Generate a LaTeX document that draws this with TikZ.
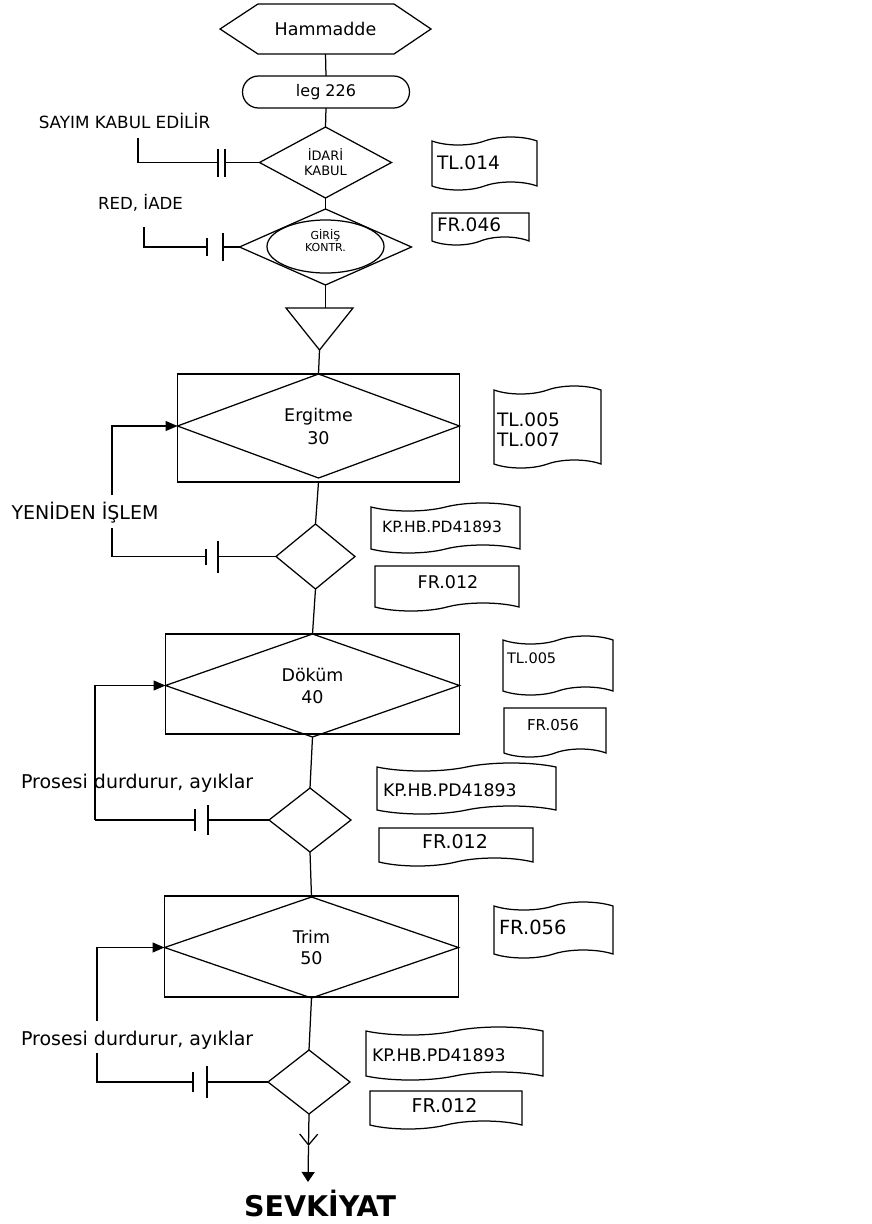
\documentclass[tikz,border=0pt]{standalone}
\usepackage{fontspec}
\setmainfont{DejaVu Sans}
\usetikzlibrary{shapes.geometric,shapes.symbols,arrows.meta}
\newcommand{\myfs}[1]{\fontsize{#1}{#1}\selectfont}
\newcommand{\vbar}[2]{\draw ([yshift=#2]#1) -- ([yshift=-#2]#1);}
\begin{document}
\begin{tikzpicture}[x=1pt,y=-1pt,line width=1.25pt,
  every node/.style={inner sep=0pt,outer sep=0pt},
  dia/.style={draw,diamond},
  tapebox/.style={draw,tape,tape bend height=8pt},
  docbox/.style={draw,tape,tape bend top=none,tape bend height=8pt},
  arr/.style={-{Triangle[length=12pt,width=10pt]}}]
\useasboundingbox (0,0) rectangle (872,1224);

% ---------- top chain ----------
\node[minimum width=211pt,minimum height=50pt,font=\myfs{17.5}] (hex) at (325.5,29) {Hammadde};
\draw (hex.west) -- ([xshift=38pt]hex.north west) -- ([xshift=-37pt]hex.north east)
  -- (hex.east) -- ([xshift=-37pt]hex.south east) -- ([xshift=38pt]hex.south west) -- cycle;

\node[draw,rounded corners=16pt,minimum width=167pt,minimum height=32pt,font=\myfs{16}] (leg) at (326,92) {leg 226};

\node[dia,minimum width=132pt,minimum height=71pt,aspect=1.86,font=\fontsize{13}{15}\selectfont,align=center] (d1) at (325.5,162.5) {İDARİ\\KABUL};

\node[dia,minimum width=172pt,minimum height=76pt,aspect=2.26] (d2) at (325.5,247) {};
\node[draw,ellipse,minimum width=117pt,minimum height=53pt] (ell) at (325.5,246.5) {};
\node[font=\fontsize{11}{12}\selectfont,align=center] (girt) at (325.5,241) {GİRİŞ\\KONTR.};

\node[minimum width=67pt,minimum height=42pt] (tri) at (319.5,329) {};
\draw (tri.north west) -- (tri.north east) -- (tri.south) -- cycle;

\draw (hex.south) -- (leg.north);
\draw (leg.south) -- (d1.north);
\draw (d1.south) -- (d2.north);
\draw (d2.south) -- (d2.south |- tri.north);

% ---------- Ergitme ----------
\node[draw,minimum width=282pt,minimum height=108pt] (erg) at (318.5,428) {};
\node[dia,minimum width=282pt,minimum height=104pt,aspect=2.7,font=\fontsize{17.5}{23}\selectfont,align=center] (ergd) at (318.5,426) {Ergitme\\30};
\node[dia,minimum width=79pt,minimum height=65pt] (sd1) at (315.5,556.5) {};
\draw (tri.south) -- (ergd.north);
\draw (erg.south) -- (sd1.north);

% ---------- Döküm ----------
\node[draw,minimum width=294pt,minimum height=100pt] (dok) at (312.5,684) {};
\node[dia,minimum width=294pt,minimum height=103pt,aspect=2.85,font=\fontsize{17.5}{22}\selectfont,align=center] (dokd) at (312.5,685.5) {Döküm\\40};
\node[dia,minimum width=82pt,minimum height=64pt] (sd2) at (310,820) {};
\draw (sd1.south) -- (dokd.north);
\draw (dokd.south) -- (sd2.north);

% ---------- Trim ----------
\node[draw,minimum width=294pt,minimum height=101pt] (trim) at (311.5,946.5) {};
\node[dia,minimum width=294pt,minimum height=101pt,aspect=2.9,font=\fontsize{17.5}{21}\selectfont,align=center] (trimd) at (311.5,947.5) {Trim\\50};
\node[dia,minimum width=82pt,minimum height=64pt] (sd3) at (309,1082) {};
\draw (sd2.south) -- (trimd.north);
\draw (trimd.south) -- (sd3.north);

% ---------- end arrow ----------
\coordinate (vmid) at (308.5,1146);
\coordinate (vend) at (308,1182);
\draw[-{Straight Barb[length=11pt,width=18pt]}] (sd3.south) -- (vmid);
\draw[-{Triangle[length=10pt,width=13pt]}] (vmid) -- (vend);
\node[font=\bfseries\myfs{28.5}] (sevk) at (320,1203) {SEVKİYAT};

% ---------- side rejections (top) ----------
\node[font=\myfs{16.8}] (say) at (124.5,121) {SAYIM KABUL EDİLİR};
\coordinate (sayv) at (138,138);
\coordinate (sb1) at (218,162.5);
\coordinate (sb2) at (225,162.5);
\draw (sayv) |- (sb1);
\vbar{sb1}{14pt}
\vbar{sb2}{14pt}
\draw (sb2) -- (d1.west);

\node[font=\myfs{16.6}] (red) at (140.5,203) {RED, İADE};
\coordinate (redv) at (144,227);
\coordinate (rb1) at (207,247);
\coordinate (rb2) at (223,247);
\draw (redv) |- (rb1);
\vbar{rb1}{9pt}
\vbar{rb2}{14pt}
\draw (rb2) -- (d2.west);

% ---------- loop 1 ----------
\node[font=\myfs{19}] (yen) at (85,513) {YENİDEN İŞLEM};
\coordinate (l1t) at (112,495);
\coordinate (l1b) at (112,528);
\coordinate (l1b1) at (206,556.5);
\coordinate (l1b2) at (218,556.5);
\draw[arr] (l1t) |- (ergd.west);
\draw (l1b) |- (l1b1);
\vbar{l1b1}{8pt}
\vbar{l1b2}{16pt}
\draw (l1b2) -- (sd1.west);

% ---------- loop 2 ----------
\coordinate (l2c) at (95,820);
\coordinate (l2b1) at (195,820);
\coordinate (l2b2) at (208,820);
\draw[arr] (l2c) |- (dokd.west);
\draw (l2c) -- (l2b1);
\vbar{l2b1}{11pt}
\vbar{l2b2}{15pt}
\draw (l2b2) -- (sd2.west);
\node[font=\myfs{19},anchor=west] (pro1) at (21,783) {Prosesi durdurur, ayıklar};

% ---------- loop 3 ----------
\node[font=\myfs{19},anchor=west] (pro2) at (21,1040) {Prosesi durdurur, ayıklar};
\coordinate (l3t) at (97,1021);
\coordinate (l3b) at (97,1053);
\coordinate (l3b1) at (193,1082);
\coordinate (l3b2) at (207,1082);
\draw[arr] (l3t) |- (trimd.west);
\draw (l3b) |- (l3b1);
\vbar{l3b1}{10pt}
\vbar{l3b2}{16pt}
\draw (l3b2) -- (sd3.west);

% ---------- documents ----------
\node[tapebox,minimum width=105pt,minimum height=53pt] (t014) at (484.5,163.5) {};
\node[anchor=west,font=\myfs{18.5}] (t014t) at (437,163) {TL.014};
\node[docbox,minimum width=97pt,minimum height=32pt] (f046) at (480.5,225) {};
\node[anchor=west,font=\myfs{18.5}] (f046t) at (437,225) {FR.046};

\node[tapebox,minimum width=107pt,minimum height=82pt] (t57) at (547.5,427) {};
\node[anchor=west,font=\fontsize{18.5}{20}\selectfont,align=left] (t57t) at (497,430) {TL.005\\TL.007};
\node[tapebox,minimum width=149pt,minimum height=50pt] (kp1) at (445.5,528) {};
\node[font=\myfs{15.5}] (kp1t) at (442,527) {KP.HB.PD41893};
\node[docbox,minimum width=144pt,minimum height=45pt] (f012a) at (447,584.5) {};
\node[font=\myfs{17.5}] (f012at) at (448,582) {FR.012};

\node[tapebox,minimum width=110pt,minimum height=59pt] (t005b) at (558,665.5) {};
\node[anchor=west,font=\myfs{14.5}] (t005bt) at (507,658) {TL.005};
\node[docbox,minimum width=102pt,minimum height=49pt] (f056b) at (555,728.5) {};
\node[font=\myfs{15}] (f056bt) at (553,725) {FR.056};
\node[tapebox,minimum width=179pt,minimum height=51pt] (kp2) at (466.5,788.5) {};
\node[anchor=west,font=\myfs{17.3}] (kp2t) at (383,790) {KP.HB.PD41893};
\node[docbox,minimum width=154pt,minimum height=38pt] (f012b) at (456,843) {};
\node[font=\myfs{19}] (f012bt) at (455,842) {FR.012};

\node[tapebox,minimum width=119pt,minimum height=56pt] (f056c) at (553.5,930) {};
\node[anchor=west,font=\myfs{19.5}] (f056ct) at (499,927) {FR.056};
\node[tapebox,minimum width=177pt,minimum height=53pt] (kp3) at (454.5,1053.5) {};
\node[anchor=west,font=\myfs{17.3}] (kp3t) at (372,1055) {KP.HB.PD41893};
\node[docbox,minimum width=152pt,minimum height=38pt] (f012c) at (446,1106) {};
\node[font=\myfs{19}] (f012ct) at (444.5,1106) {FR.012};
\end{tikzpicture}
\end{document}
